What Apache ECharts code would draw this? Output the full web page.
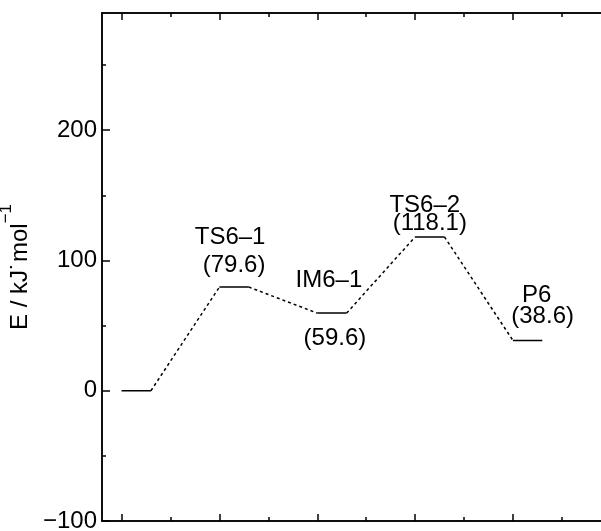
<!DOCTYPE html>
<html>
<head>
<meta charset="utf-8">
<script src="https://cdn.jsdelivr.net/npm/echarts@6.0.0/dist/echarts.min.js"></script>
<style>
  html, body { margin: 0; padding: 0; background: #fff; }
  #main { width: 601px; height: 531px; }
</style>
</head>
<body>
<div id="main"></div>
<script>
// species along the reaction path and their relative energies (kJ/mol)
const species = ["", "TS6\u20131", "IM6\u20131", "TS6\u20132", "P6"];
const energies = [0, 79.6, 59.6, 118.1, 38.6];
const xTicks = [1, 2, 3, 4, 5];
const xMinorTicks = [1.5, 2.5, 3.5, 4.5, 5.5];
const yTicks = [-100, 0, 100, 200];
const yMinorTicks = [-50, 50, 150, 250];

// label placement, pixels from the centre of each level (name / value)
const nameOffsets = [null, [-4, -50], [-3, -33], [-5, -32], [9, -45]];
const valueOffsets = [null, [0, -22], [3, 25], [0, -14], [15, -24]];

const levelWidth = 0.3;
const font = "'Liberation Sans', Arial, sans-serif";
const black = "#000";

let series = [];

// horizontal energy levels
energies.forEach((e, i) => {
  series.push({
    type: "line",
    data: [[i + 1, e], [i + 1 + levelWidth, e]],
    symbol: "none",
    lineStyle: { color: black, width: 1.5 },
    silent: true
  });
});

// dotted connectors between levels
for (let i = 0; i < energies.length - 1; i++) {
  series.push({
    type: "line",
    data: [[i + 1 + levelWidth, energies[i]], [i + 2, energies[i + 1]]],
    symbol: "none",
    lineStyle: { color: black, width: 1.5, type: [3, 3] },
    silent: true
  });
}

// labels: name and value above / below each level
const labelData = [];
species.forEach((name, i) => {
  if (!name) return;
  const cx = i + 1 + levelWidth / 2;
  labelData.push({
    value: [cx, energies[i]],
    label: { formatter: name, offset: nameOffsets[i] }
  });
  labelData.push({
    value: [cx, energies[i]],
    label: { formatter: "(" + energies[i].toFixed(1) + ")", offset: valueOffsets[i] }
  });
});
series.push({
  type: "scatter",
  symbolSize: 0,
  itemStyle: { color: black, opacity: 1 },
  data: labelData,
  silent: true,
  label: {
    show: true,
    position: "inside",
    color: black,
    textBorderWidth: 0,
    textBorderColor: "transparent",
    fontFamily: font,
    fontSize: 24
  }
});

function xAxisDef(pos, ticks, len) {
  return {
    type: "value",
    position: pos,
    min: 0.8,
    max: 5.9,
    axisLine: { show: true, onZero: false, lineStyle: { color: black, width: 1.5 } },
    axisTick: { show: true, inside: true, length: len, customValues: ticks, lineStyle: { color: black, width: 1.5 } },
    axisLabel: { show: false },
    splitLine: { show: false }
  };
}

function yAxisDef(ticks, len, labels) {
  return {
    type: "value",
    position: "left",
    min: -100,
    max: 290,
    axisLine: { show: true, onZero: false, lineStyle: { color: black, width: 1.5 } },
    axisTick: { show: true, inside: true, length: len, customValues: ticks, lineStyle: { color: black, width: 1.5 } },
    axisLabel: labels ? {
      show: true,
      customValues: yTicks,
      margin: 5,
      color: black,
      fontFamily: font,
      fontSize: 24,
      formatter: v => String(v).replace("-", "\u2212")
    } : { show: false },
    splitLine: { show: false }
  };
}

const yMain = yAxisDef(yTicks, 8, true);
yMain.name = "{a|E / kJ\u02d9mol}{s|\u22121}";
yMain.nameLocation = "middle";
yMain.nameRotate = 90;
yMain.nameGap = 58;
yMain.nameTextStyle = {
  rich: {
    a: { fontFamily: font, fontSize: 24, color: black, lineHeight: 34, verticalAlign: "bottom" },
    s: { fontFamily: font, fontSize: 17, color: black, lineHeight: 34, verticalAlign: "top" }
  }
};

const option = {
  animation: false,
  backgroundColor: "#fff",
  grid: { left: 102, right: 0, top: 13, bottom: 10, containLabel: false, outerBoundsMode: "none" },
  xAxis: [
    xAxisDef("bottom", xTicks, 7),
    xAxisDef("top", xTicks, 7),
    xAxisDef("bottom", xMinorTicks, 4),
    xAxisDef("top", xMinorTicks, 4)
  ],
  yAxis: [yMain, yAxisDef(yMinorTicks, 4, false)],
  series: series
};

let chartDom = document.getElementById("main");
let myChart = echarts.init(chartDom, null, { renderer: "canvas" });
myChart.setOption(option);
</script>
</body>
</html>
